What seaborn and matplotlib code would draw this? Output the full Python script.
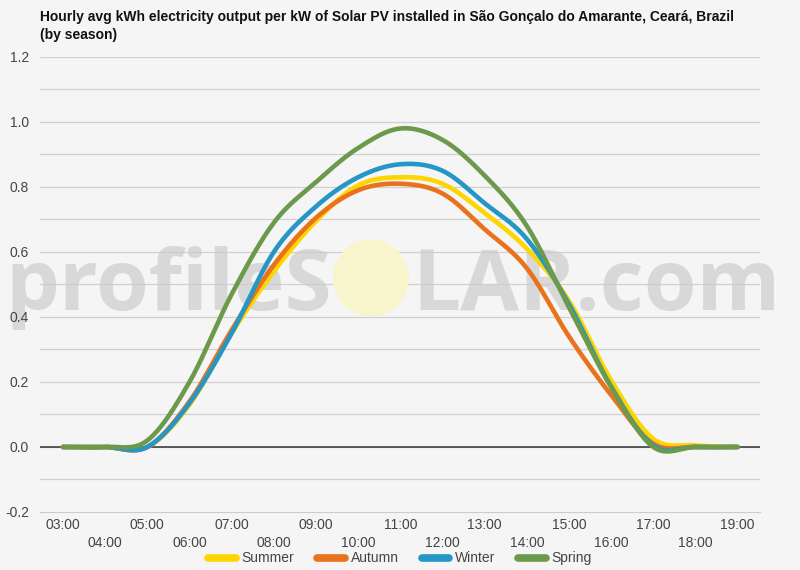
import numpy as np
import pandas as pd
import matplotlib
matplotlib.use("Agg")
import matplotlib.pyplot as plt
from matplotlib.patches import Ellipse
import seaborn as sns

# hourly averages (kWh per kW installed)
hours = list(range(3, 20))
summer = [0, 0, 0, 0.13, 0.35, 0.54, 0.695, 0.805, 0.83, 0.81, 0.72, 0.61, 0.45, 0.205, 0.025, 0.005, 0]
autumn = [0, 0, 0, 0.14, 0.36, 0.56, 0.705, 0.79, 0.81, 0.78, 0.67, 0.55, 0.34, 0.16, 0.01, 0, 0]
winter = [0, 0, 0, 0.135, 0.35, 0.60, 0.74, 0.83, 0.87, 0.85, 0.75, 0.64, 0.44, 0.185, 0.005, 0, 0]
spring = [0, 0, 0.02, 0.2, 0.47, 0.69, 0.815, 0.92, 0.98, 0.945, 0.835, 0.68, 0.43, 0.185, 0, 0, 0]

seasons = ["Summer", "Autumn", "Winter", "Spring"]
colors = {"Summer": "#ffd500", "Autumn": "#e8731c", "Winter": "#2596c6", "Spring": "#6c9a4c"}
tick_labels = ["%02d:00" % h for h in hours]
y_ticks = [-0.2, 0.0, 0.2, 0.4, 0.6, 0.8, 1.0, 1.2]

title = ("Hourly avg kWh electricity output per kW of Solar PV installed in São Gonçalo do Amarante, Ceará, Brazil\n"
         "(by season)")


def smooth(x, y, n=20):
    # catmull-rom style curve through the hourly points (like the original "function" curve)
    x = np.asarray(x, float)
    y = np.asarray(y, float)
    m = np.gradient(y, x)
    xs, ys = [], []
    for i in range(len(x) - 1):
        t = np.linspace(0, 1, n, endpoint=False)
        h = x[i + 1] - x[i]
        h00 = 2 * t**3 - 3 * t**2 + 1
        h10 = t**3 - 2 * t**2 + t
        h01 = -2 * t**3 + 3 * t**2
        h11 = t**3 - t**2
        xs.extend(x[i] + t * h)
        ys.extend(h00 * y[i] + h10 * h * m[i] + h01 * y[i + 1] + h11 * h * m[i + 1])
    xs.append(x[-1])
    ys.append(y[-1])
    return xs, ys


frames = []
for name, vals in zip(seasons, [summer, autumn, winter, spring]):
    sx, sy = smooth(hours, vals)
    frames.append(pd.DataFrame({"hour": sx, "kwh": sy, "season": name}))
df = pd.concat(frames, ignore_index=True)

sns.set_style("white")
plt.rcParams["font.family"] = ["Liberation Sans", "DejaVu Sans"]

bg = "#f5f5f5"
fig = plt.figure(figsize=(8, 5.7), dpi=100, facecolor=bg)
ax = fig.add_axes([0.05, 0.1018, 0.90, 0.7982])
ax.set_facecolor(bg)
ax.set_axisbelow(False)

for yv in np.arange(-0.1, 1.21, 0.1):
    ax.axhline(yv, color="#d0d0d0", lw=0.9, zorder=0.8)

# watermark
renderer = fig.canvas.get_renderer()
wm_kw = dict(transform=fig.transFigure, color="#cdcdcd", family=["Open Sans", "Liberation Sans"],
             fontweight="bold", alpha=0.72, ha="left", va="baseline", zorder=0.9, clip_on=False)
wm1 = ax.text(5 / 800, 0.456, "profileS", fontsize=68, **wm_kw)
w = wm1.get_window_extent(renderer).width
wm1.set_fontsize(68 * 327 / w)
ax.text(412 / 800, 0.456, "LAR.com", fontsize=68 * 327 / w, **wm_kw)
ax.add_patch(Ellipse((3.71, 2.92), 0.76, 0.77, transform=fig.dpi_scale_trans,
                     facecolor="#f8f4cc", edgecolor="none", zorder=1, clip_on=False))

ax.axhline(0, color="#333333", lw=1.1, zorder=1.5)

sns.lineplot(data=df, x="hour", y="kwh", hue="season", hue_order=seasons,
             palette=colors, linewidth=3.3, ax=ax, zorder=3, sort=False)

ax.set_xlim(2.455, 19.53)
ax.set_ylim(-0.2, 1.2)
ax.set_xticks(hours)
ax.set_xticklabels([lab if i % 2 == 0 else "\n" + lab for i, lab in enumerate(tick_labels)])
for lab in ax.get_xticklabels():
    lab.set_linespacing(1.45)
ax.set_yticks(y_ticks)
ax.set_yticklabels(["%.1f" % v for v in y_ticks])
ax.tick_params(axis="both", length=0, labelsize=10, colors="#444444")
ax.tick_params(axis="y", pad=8)
ax.tick_params(axis="x", pad=4)
ax.set_xlabel("")
ax.set_ylabel("")
for s in ["top", "right", "left"]:
    ax.spines[s].set_visible(False)
ax.spines["bottom"].set_color("#cccccc")

sns.move_legend(ax, "lower center", bbox_to_anchor=(0.5, -0.014), bbox_transform=fig.transFigure,
                ncol=4, frameon=False, title=None, fontsize=10, handlelength=2.0,
                handletextpad=0.4, columnspacing=1.65)
for line in ax.get_legend().get_lines():
    line.set_linewidth(5.5)
for t in ax.get_legend().get_texts():
    t.set_color("#444444")

fig.text(0.05, 0.982, title, fontsize=10, fontweight="bold", color="#111111",
         ha="left", va="top", linespacing=1.3)

fig.savefig("out.png", dpi=100, facecolor=bg)
